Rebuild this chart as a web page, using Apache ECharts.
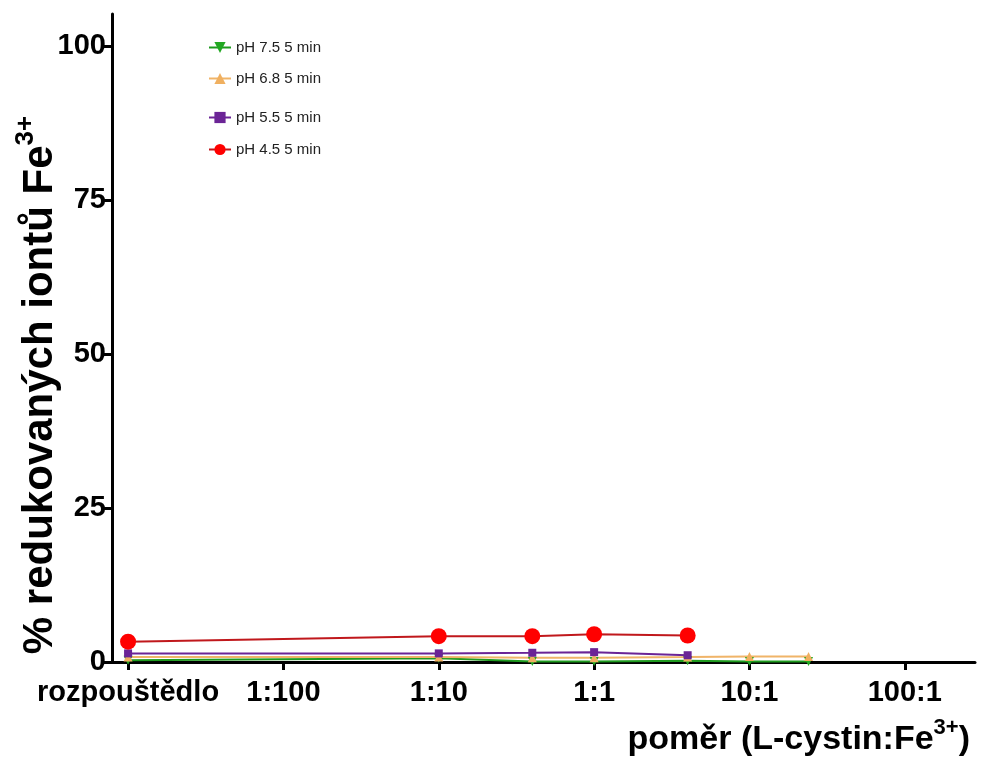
<!DOCTYPE html>
<html><head><meta charset="utf-8">
<script src="https://cdn.jsdelivr.net/npm/echarts@6/dist/echarts.min.js"></script>
<style>html,body{margin:0;padding:0;background:#fff}#c{width:983px;height:758px}</style>
</head><body><div id="c"></div>
<script>
// ratio L-cystin:Fe3+ (rozpouštědlo plotted at 0.001)
const ratiosLong = [0.001, 0.1, 0.4, 1, 4, 10, 24];
const ratiosShort = [0.001, 0.1, 0.4, 1, 4];
const tickValues = [0.001, 0.01, 0.1, 1, 10, 100];
const tickLabels = ['rozpouštědlo', '1:100', '1:10', '1:1', '10:1', '100:1'];
const seriesNames = ['pH 7.5 5 min', 'pH 6.8 5 min', 'pH 5.5 5 min', 'pH 4.5 5 min'];
const ph75 = [0.3, 0.6, 0.1, 0.1, 0.2, 0.1, 0.1];
const ph68 = [0.8, 0.8, 0.7, 0.7, 0.8, 0.9, 0.9];
const ph55 = [1.4, 1.4, 1.5, 1.6, 1.1];
const ph45 = [3.3, 4.2, 4.2, 4.5, 4.3];
const yTicks = [0, 25, 50, 75, 100];

const font = 'Liberation Sans, Arial, sans-serif';
function pairs(xs, ys){ return ys.map((v,i)=>[xs[i], v]); }
const cfg = [
  {name: seriesNames[0], data: pairs(ratiosLong, ph75), color:'#22a822', line:'#1e9a1e', symbol:'triangle', rotate:180, size:9},
  {name: seriesNames[1], data: pairs(ratiosLong, ph68), color:'#f0b060', line:'#f0b468', symbol:'triangle', rotate:0, size:9},
  {name: seriesNames[2], data: pairs(ratiosShort, ph55), color:'#6b2496', line:'#6b2496', symbol:'rect', rotate:0, size:8},
  {name: seriesNames[3], data: pairs(ratiosShort, ph45), color:'#ff0000', line:'#c0181c', symbol:'circle', rotate:0, size:16}
];
const legendTops = [35, 66, 105, 137];
const chart = echarts.init(document.getElementById('c'), null, {renderer:'canvas'});
chart.setOption({
  animation:false,
  backgroundColor:'#fff',
  grid:{left:112, right:8, top:14, bottom:96, containLabel:false, outerBoundsMode:'none'},
  title:{
    text:'{a|poměr (L-cystin:Fe}{s|3+}{a|)}',
    right:8, top:712,
    textStyle:{rich:{
      a:{fontFamily:font, fontWeight:'bold', fontSize:34, color:'#000', verticalAlign:'bottom', lineHeight:40},
      s:{fontFamily:font, fontWeight:'bold', fontSize:22, color:'#000', verticalAlign:'top', lineHeight:40, padding:[0,0,16,0]}
    }}
  },
  legend: cfg.map((c,i)=>({
    data:[c.name], left:203, top:legendTops[i], itemWidth:22, itemHeight:14, itemGap:0,
    textStyle:{fontFamily:font, fontSize:15, color:'#222'}
  })),
  xAxis:{
    type:'log', logBase:10, min:0.000788, max:283,
    axisLine:{lineStyle:{color:'#000', width:3}},
    splitLine:{show:false},
    axisTick:{show:true, length:8, lineStyle:{color:'#000', width:3}, customValues: tickValues},
    minorTick:{show:false},
    axisLabel:{customValues: tickValues, margin:16, fontFamily:font, fontWeight:'bold', fontSize:29, color:'#000',
      formatter:function(v){ const k = Math.round(Math.log10(v))+3; return tickLabels[k] || ''; }}
  },
  yAxis:{
    type:'value', min:0, max:105.2,
    name:'{a|% redukovaných iontů Fe}{s|3+}',
    nameLocation:'middle', nameGap:51, nameRotate:90, nameMoveOverlap:false,
    nameTextStyle:{padding:[0,94,0,0], rich:{
      a:{fontFamily:font, fontWeight:'bold', fontSize:42, color:'#000', verticalAlign:'bottom', lineHeight:48},
      s:{fontFamily:font, fontWeight:'bold', fontSize:26, color:'#000', verticalAlign:'top', lineHeight:48, padding:[0,0,19,0]}
    }},
    axisLine:{show:true, lineStyle:{color:'#000', width:3}},
    splitLine:{show:false},
    axisTick:{show:true, length:8, lineStyle:{color:'#000', width:3}, customValues: yTicks},
    axisLabel:{customValues: yTicks, margin:6, fontFamily:font, fontWeight:'bold', fontSize:29, color:'#000'}
  },
  series: cfg.map(c=>({
    name:c.name, type:'line', data:c.data, symbol:c.symbol, symbolSize:c.size, symbolRotate:c.rotate,
    showAllSymbol:true,
    itemStyle:{color:c.color},
    lineStyle:{color:c.line, width:2},
    emphasis:{disabled:true}
  }))
});
</script></body></html>
